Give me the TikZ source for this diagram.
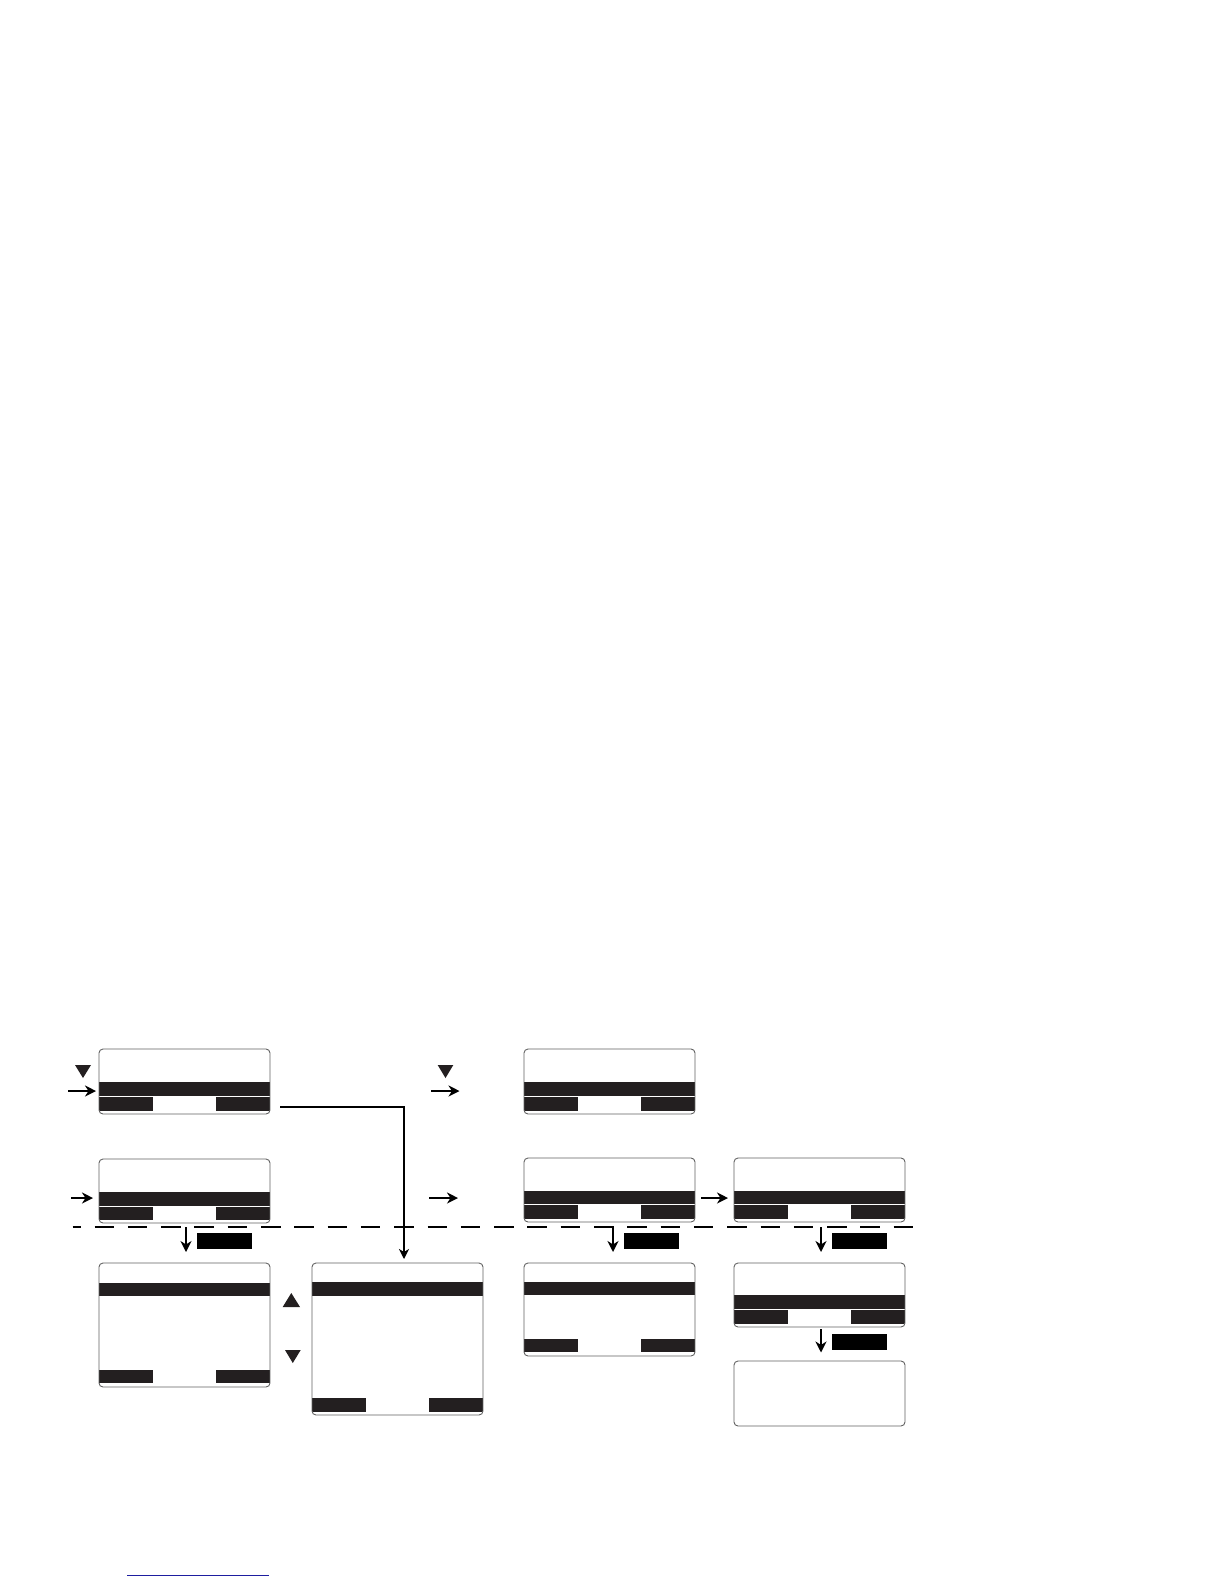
\documentclass[tikz,border=0pt]{standalone}
\usetikzlibrary{arrows.meta}
\definecolor{barcol}{RGB}{35,31,32}
\definecolor{linkblue}{RGB}{30,30,160}
\tikzset{
  screen/.style={draw=black!62, line width=0.9pt, rounded corners=4pt, inner sep=0pt, outer sep=0pt, anchor=north west},
  keylabel/.style={fill=black, inner sep=0pt, outer sep=0pt, anchor=north west},
  arr/.style={line width=2.3pt, -{Stealth[length=11pt,width=11pt,inset=3.5pt]}},
  conn/.style={line width=1.8pt, -{Stealth[length=10pt,width=10pt,inset=3pt]}},
  sep/.style={line width=2pt, dash pattern=on 19.5pt off 13.8pt, dash phase=11.5pt},
  marker/.style={fill=barcol}
}
% box: name, left, top, right, bottom
\newcommand\scrbox[5]{%
  \node[screen, minimum width={(#4-#2)*1pt}, minimum height={(#5-#3)*1pt}] (#1) at (#2,#3) {};}
% bars: left, top, right, bottom, bartop, barbottom, keytop, keybottom
\newcommand\scrbars[8]{%
  \begin{scope}
    \clip[rounded corners=4pt] (#1,#2) rectangle (#3,#4);
    \fill[barcol] (#1,#5) rectangle (#3,#6);
    \fill[barcol] (#1,#7) rectangle ({#1+54},#8);
    \fill[barcol] ({#3-54},#7) rectangle (#3,#8);
  \end{scope}}
% label: name, left, top
\newcommand\keybox[3]{%
  \node[keylabel, minimum width=55pt, minimum height=16pt] (#1) at (#2,#3) {};}
\begin{document}
\begin{tikzpicture}[x=1pt,y=-1pt]
\useasboundingbox (0,0) rectangle (1224,1584);

% screens: bars first, then outlines
\scrbars{99}{1049}{270}{1114}{1082}{1096}{1097}{1111}
\scrbox{s1}{99}{1049}{270}{1114}
\scrbars{99}{1159}{270}{1223}{1192}{1206}{1207}{1219.5}
\scrbox{s2}{99}{1159}{270}{1223}
\scrbars{99}{1263}{270}{1387}{1283}{1296}{1370}{1383}
\scrbox{s3}{99}{1263}{270}{1387}
\scrbars{312}{1263}{483}{1415}{1282}{1296}{1398}{1412}
\scrbox{s4}{312}{1263}{483}{1415}
\scrbars{524}{1049}{695}{1114}{1082}{1096}{1097}{1111}
\scrbox{s5}{524}{1049}{695}{1114}
\scrbars{524}{1158}{695}{1222}{1191}{1204}{1205}{1219}
\scrbox{s6}{524}{1158}{695}{1222}
\scrbars{734}{1158}{905}{1222}{1191}{1204}{1205}{1219}
\scrbox{s7}{734}{1158}{905}{1222}
\scrbars{524}{1263}{695}{1356}{1282}{1295}{1339}{1352}
\scrbox{s8}{524}{1263}{695}{1356}
\scrbars{734}{1263}{905}{1327}{1295}{1309}{1310}{1324}
\scrbox{s9}{734}{1263}{905}{1327}
\scrbox{s10}{734}{1361}{905}{1426}

% separator
\coordinate (sepL) at (72.7,1227);
\coordinate (sepR) at (916,1227);
\draw[sep] (sepL) -- (sepR);

% triangle markers
\fill[marker] (75,1065) -- (91,1065) -- (83,1078) -- cycle;
\fill[marker] (437.7,1065) -- (453.3,1065) -- (445.5,1078) -- cycle;
\fill[marker] (282.7,1307) -- (300,1307) -- (291.3,1293) -- cycle;
\fill[marker] (285,1350) -- (300.7,1350) -- (292.8,1363) -- cycle;

% small pointer arrows
\coordinate (p1a) at (68,1091);   \coordinate (p1b) at (96,1091);
\coordinate (p2a) at (71,1198);   \coordinate (p2b) at (93,1198);
\coordinate (p5a) at (431,1091);  \coordinate (p5b) at (459.5,1091);
\coordinate (p6a) at (429,1198);  \coordinate (p6b) at (458,1198);
\draw[arr] (p1a) -- (p1b);
\draw[arr] (p2a) -- (p2b);
\draw[arr] (p5a) -- (p5b);
\draw[arr] (p6a) -- (p6b);
\draw[arr, shorten <=6pt, shorten >=6pt] (s6.east |- p6a) -- (s7.west |- p6a);

% key labels
\keybox{k2}{197}{1233}
\keybox{k6}{624}{1233}
\keybox{k7}{832}{1233}
\keybox{k9}{832}{1334}

% down arrows
\draw[arr] (186,1227) -- ([yshift=11pt]s3.north -| 186,0);
\draw[arr] (613,1227) -- ([yshift=11pt]s8.north -| 613,0);
\draw[arr] (821,1227) -- ([yshift=11pt]s9.north -| 821,0);
\draw[arr] ([yshift=-2pt]s9.south -| 821,0) -- ([yshift=8.5pt]s10.north -| 821,0);

% connector from first screen to tall list screen
\coordinate (c1) at (280,1107);
\draw[conn] (c1) -- (404,1107) -- ([yshift=4pt]s4.north -| 404,0);

% bottom link line
\coordinate (bl1) at (127,1575);
\coordinate (bl2) at (269,1575);
\draw[linkblue, line width=1pt] (bl1) -- (bl2);
\end{tikzpicture}
\end{document}
